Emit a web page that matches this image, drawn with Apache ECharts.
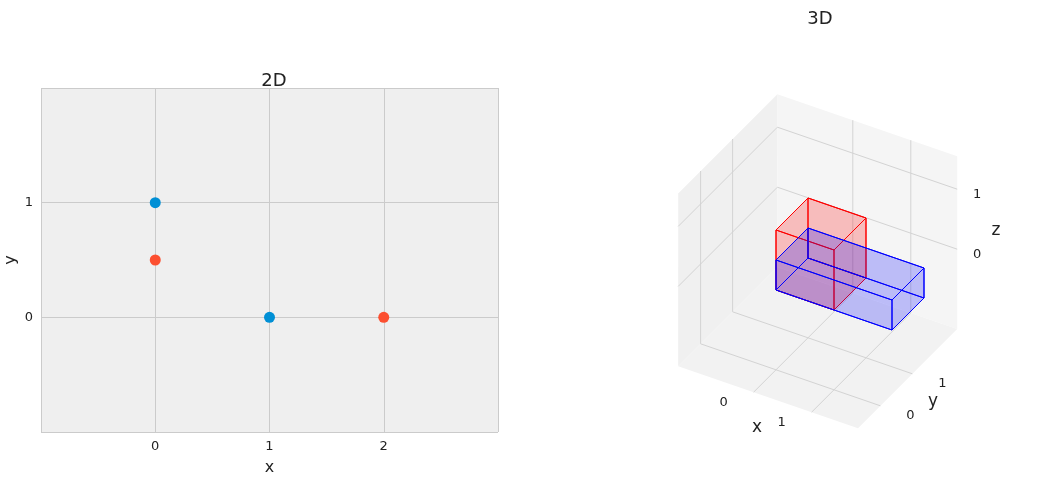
<!DOCTYPE html>
<html><head><meta charset="utf-8">
<script src="https://cdn.jsdelivr.net/npm/echarts@6/dist/echarts.min.js"></script>
<style>html,body{margin:0;padding:0;background:#fff}#c{width:1051px;height:501px}</style>
</head><body><div id="c"></div>
<script>
// 2D data
const bluePoints = [[0,1],[1,0]];
const redPoints = [[0,0.5],[2,0]];
const xTicks2D = [0,1,2];
const yTicks2D = [0,1];
// 3D data: [x0,y0,z0,dx,dy,dz]
const redBox = [0,0,0,1,1,1];
const blueBox = [0,0,0,2,1,0.5];
const xTicks3D = [0,1];
const yTicks3D = [0,1];
const zTicks3D = [0,1];
const lim3D = {x:[-1.3,1.8], y:[-0.7,2.4], z:[-1.33,1.55]};

const F = 'DejaVu Sans';
// affine projection for the 3D panel
const O=[776,290], EX=[58,20], EY=[32,-32], EZ=[0,-60];
function P(x,y,z){return [O[0]+x*EX[0]+y*EY[0]+z*EZ[0], O[1]+x*EX[1]+y*EY[1]+z*EZ[1]];}

function render3D(params, api){
  const ch=[];
  const L=lim3D, x0=L.x[0],x1=L.x[1],y0=L.y[0],y1=L.y[1],z0=L.z[0],z1=L.z[1];
  const poly=(pts,fill,stroke,lw)=>ch.push({type:'polygon',shape:{points:pts},style:{fill:fill,stroke:stroke||null,lineWidth:lw||0}});
  const line=(a,b,c,lw)=>ch.push({type:'line',shape:{x1:a[0],y1:a[1],x2:b[0],y2:b[1]},style:{stroke:c,lineWidth:lw||1}});
  // panes
  poly([P(x0,y0,z0),P(x0,y1,z0),P(x0,y1,z1),P(x0,y0,z1)],'#f0f0f0');
  poly([P(x0,y1,z0),P(x1,y1,z0),P(x1,y1,z1),P(x0,y1,z1)],'#f5f5f5');
  poly([P(x0,y0,z0),P(x1,y0,z0),P(x1,y1,z0),P(x0,y1,z0)],'#f2f2f2');
  const g='#d3d3d3';
  xTicks3D.forEach(t=>{line(P(t,y0,z0),P(t,y1,z0),g);line(P(t,y1,z0),P(t,y1,z1),g);});
  yTicks3D.forEach(t=>{line(P(x0,t,z0),P(x1,t,z0),g);line(P(x0,t,z0),P(x0,t,z1),g);});
  zTicks3D.forEach(t=>{line(P(x0,y0,t),P(x0,y1,t),g);line(P(x0,y1,t),P(x1,y1,t),g);});
  // boxes
  const box=(b,fill,stroke)=>{
    const [a,bb,c,dx,dy,dz]=b, X=[a,a+dx],Y=[bb,bb+dy],Z=[c,c+dz];
    const faces=[
      [[X[0],Y[0],Z[0]],[X[1],Y[0],Z[0]],[X[1],Y[1],Z[0]],[X[0],Y[1],Z[0]]],
      [[X[0],Y[0],Z[1]],[X[1],Y[0],Z[1]],[X[1],Y[1],Z[1]],[X[0],Y[1],Z[1]]],
      [[X[0],Y[0],Z[0]],[X[1],Y[0],Z[0]],[X[1],Y[0],Z[1]],[X[0],Y[0],Z[1]]],
      [[X[0],Y[1],Z[0]],[X[1],Y[1],Z[0]],[X[1],Y[1],Z[1]],[X[0],Y[1],Z[1]]],
      [[X[0],Y[0],Z[0]],[X[0],Y[1],Z[0]],[X[0],Y[1],Z[1]],[X[0],Y[0],Z[1]]],
      [[X[1],Y[0],Z[0]],[X[1],Y[1],Z[0]],[X[1],Y[1],Z[1]],[X[1],Y[0],Z[1]]]];
    faces.forEach(f=>poly(f.map(p=>P(...p)),fill,stroke,1));
  };
  box(redBox,'rgba(255,0,0,0.12)','#ff0000');
  box(blueBox,'rgba(0,0,255,0.12)','#0000ff');
  const txt=(p,s,size)=>ch.push({type:'text',x:p[0],y:p[1],style:{text:s,fill:'#222',font:size+'px '+F,align:'center',verticalAlign:'middle'}});
  xTicks3D.forEach(t=>txt((q=>[q[0]-30,q[1]+10])(P(t,y0,z0)),String(t),13));
  yTicks3D.forEach(t=>txt((q=>[q[0]+30,q[1]+10])(P(x1,t,z0)),String(t),13));
  zTicks3D.forEach(t=>txt((q=>[q[0]+20,q[1]+5])(P(x1,y1,t)),String(t),13));
  txt([757,428],'x',17); txt([933,402],'y',17); txt([996,231],'z',17);
  return {type:'group',children:ch};
}

const chart=echarts.init(document.getElementById('c'));
chart.setOption({
  animation:false,
  title:[
    {text:'2D',left:269,top:67,textAlign:'center',textStyle:{fontFamily:F,fontSize:18,fontWeight:'normal',color:'#222'}},
    {text:'3D',left:815,top:5,textAlign:'center',textStyle:{fontFamily:F,fontSize:18,fontWeight:'normal',color:'#222'}}
  ],
  grid:{left:41,right:553,top:88,bottom:69,show:true,backgroundColor:'#efefef',borderWidth:0},
  xAxis:{type:'value',min:-1,max:3,interval:1,name:'x',nameLocation:'middle',nameGap:28,
    nameTextStyle:{fontFamily:F,fontSize:16,color:'#222'},
    axisLine:{show:false},axisTick:{show:false},
    axisLabel:{fontFamily:F,fontSize:13,color:'#222',formatter:v=>xTicks2D.includes(v)?String(v):''},
    splitLine:{lineStyle:{color:'#cbcbcb'}}},
  yAxis:{type:'value',min:-1,max:2,interval:1,name:'y',nameLocation:'middle',nameGap:22,
    nameTextStyle:{fontFamily:F,fontSize:16,color:'#222'},
    axisLine:{show:false},axisTick:{show:false},
    axisLabel:{fontFamily:F,fontSize:13,color:'#222',formatter:v=>yTicks2D.includes(v)?String(v):''},
    splitLine:{lineStyle:{color:'#cbcbcb'}}},
  series:[
    {type:'scatter',data:bluePoints,symbolSize:11,itemStyle:{color:'#008fd5',opacity:1}},
    {type:'scatter',data:redPoints,symbolSize:11,itemStyle:{color:'#fc4f30',opacity:1}},
    {type:'custom',coordinateSystem:'none',data:[0],renderItem:render3D,silent:true}
  ]
});
</script></body></html>
